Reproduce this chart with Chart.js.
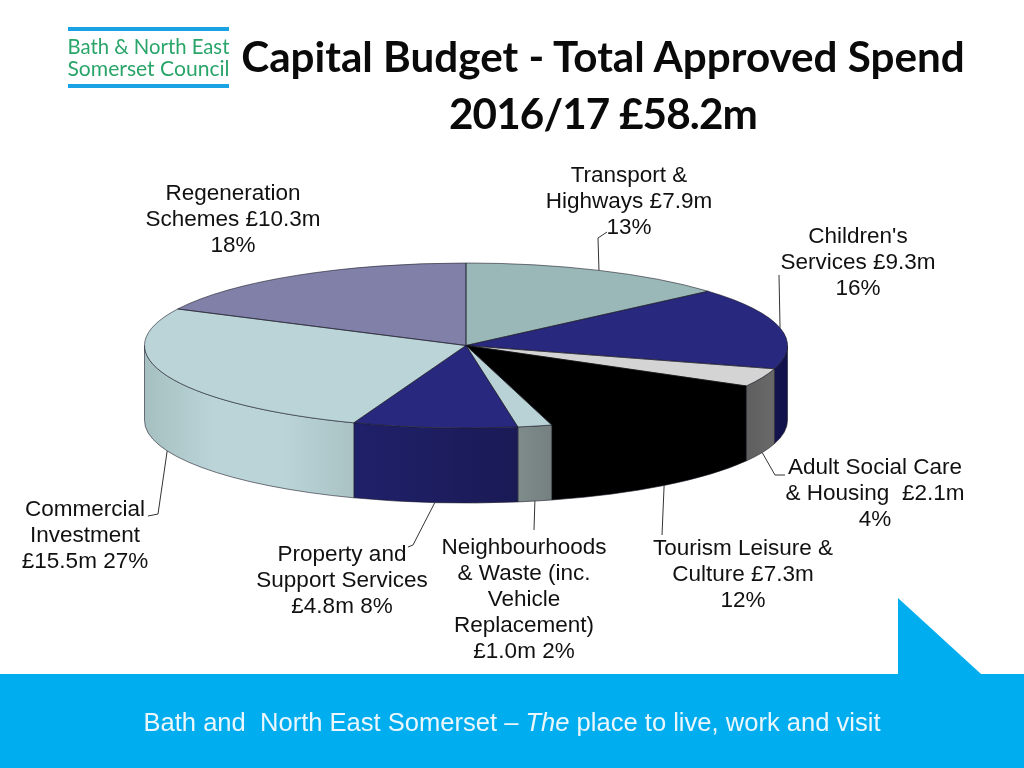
<!DOCTYPE html>
<html><head><meta charset="utf-8">
<script src="https://cdn.jsdelivr.net/npm/chart.js@4"></script>
<style>
html,body{margin:0;padding:0;background:#fff;width:1024px;height:768px;overflow:hidden}
#stage{position:relative;width:1024px;height:768px;overflow:hidden}
canvas{position:absolute;left:0;top:0}
.t{position:absolute;white-space:pre;transform:translate(-50%,-50%);line-height:1}
.lab{font:22.5px "Liberation Sans",Arial,sans-serif;color:#111}
.title{font:700 42.2px Lato,Carlito,sans-serif;color:#0a0a0a}
.logo{font:400 20.3px Lato,sans-serif;color:#2aa56a}
#band{position:absolute;left:0;top:674px;width:1024px;height:94px;background:#00aeef}
#tri{position:absolute;left:898px;top:598px;width:0;height:0;border-bottom:76px solid #00aeef;border-right:83px solid transparent}
.bar{position:absolute;left:68px;width:161px;height:4px;background:#1aa3e4}
#foot{font:25.55px "Liberation Sans",Arial,sans-serif;color:#eaf6fc}
</style></head><body><div id="stage">
<div id="band"></div><div id="tri"></div>
<canvas id="c" width="1024" height="768"></canvas>
<div class="bar" style="top:27px"></div><div class="bar" style="top:84px"></div>
<div class="t logo" style="left:148.5px;top:46px">Bath &amp; North East</div>
<div class="t logo" style="left:148.5px;top:67px;font-size:21.1px">Somerset Council</div>
<div class="t title" style="left:603px;top:55px">Capital Budget - Total Approved Spend</div>
<div class="t title" style="left:603px;top:112px;letter-spacing:-.85px">2016/17 £58.2m</div>
<div class="t" id="foot" style="left:512px;top:722px">Bath and  North East Somerset – <i>The</i> place to live, work and visit</div>
</div>
<script>
const categories=["Transport & Highways","Children's Services","Adult Social Care & Housing","Tourism Leisure & Culture","Neighbourhoods & Waste (inc. Vehicle Replacement)","Property and Support Services","Commercial Investment","Regeneration Schemes"];
const amounts=[7.9,9.3,2.1,7.3,1.0,4.8,15.5,10.3];
const topColours=["#9ab8b8","#28287e","#d4d4d4","#000000","#b9d2d5","#28287e","#bad4d8","#8080a8"];
const wallColours=[["#7f9898","#7f9898"],["#14144e","#12124a"],["#5e5e5e","#6a6a6a"],["#000000","#000000"],["#7f8c8c","#75807f"],["#20206a","#1a1a56"],["#a6bfc0","#bad4d8","#bad4d8","#aac2c4"],["#666","#666"]];
const labelLines=[
 ["Transport &","Highways £7.9m","13%"],
 ["Children's","Services £9.3m","16%"],
 ["Adult Social Care","& Housing  £2.1m","4%"],
 ["Tourism Leisure &","Culture £7.3m","12%"],
 ["Neighbourhoods","& Waste (inc.","Vehicle","Replacement)","£1.0m 2%"],
 ["Property and","Support Services","£4.8m 8%"],
 ["Commercial","Investment","£15.5m 27%"],
 ["Regeneration","Schemes £10.3m","18%"]];
const labelAnchor=[[629,175],[858,236],[875,467],[743,548],[524,547],[342,554],[85,509],[233,193]];
const lineStep=26;
const leaderBends=[[[598,238],[607,232]],[[779,275]],[[775,475],[785,475]],[[662,535]],[[534,530]],[[413,545],[408,547]],[[158,514],[148,516]],[]];

const stage=document.getElementById('stage');
labelLines.forEach((lines,i)=>lines.forEach((s,j)=>{
  const d=document.createElement('div');d.className='t lab';d.textContent=s;
  d.style.left=labelAnchor[i][0]+'px';d.style.top=(labelAnchor[i][1]+j*lineStep)+'px';stage.appendChild(d);
}));

const squash=82.5/321.5, depth=75, edge='#1c1c2a';
function geom(chart){const a=chart.getDatasetMeta(0).data;return {a,cx:a[0].x,cy:a[0].y,r:a[0].outerRadius};}
const pie3d={id:'pie3d',
 beforeDatasetsDraw(chart){
  const {ctx}=chart,{a,cx,cy,r}=geom(chart),ry=r*squash;
  a.forEach((el,i)=>{
    const s=Math.max(el.startAngle,0),e=Math.min(el.endAngle,Math.PI);
    if(e<=s)return;
    const xs=cx+r*Math.cos(e),xe=cx+r*Math.cos(s);
    const g=ctx.createLinearGradient(xs,0,xe,0);
    wallColours[i].forEach((c,k,arr)=>g.addColorStop(k/(arr.length-1),c));
    ctx.beginPath();
    ctx.ellipse(cx,cy,r,ry,0,s,e);
    ctx.ellipse(cx,cy+depth,r,ry,0,e,s,true);
    ctx.closePath();ctx.fillStyle=g;ctx.fill();
    ctx.strokeStyle=edge;ctx.lineWidth=.6;ctx.stroke();
  });
  ctx.save();ctx.translate(cx,cy);ctx.scale(1,squash);ctx.translate(-cx,-cy);
 },
 afterDatasetsDraw(chart){
  const {ctx}=chart;ctx.restore();
  const {a,cx,cy,r}=geom(chart),ry=r*squash;
  ctx.lineWidth=.6;
  a.forEach((el,i)=>{
    ctx.strokeStyle=topColours[i]==='#000000'?'#000':edge;
    ctx.beginPath();ctx.moveTo(cx,cy);ctx.ellipse(cx,cy,r,ry,0,el.startAngle,el.endAngle);ctx.closePath();ctx.stroke();
  });
  ctx.strokeStyle='#333';ctx.lineWidth=1;
  a.forEach((el,i)=>{
    if(!leaderBends[i].length)return;
    const m=(el.startAngle+el.endAngle)/2,front=Math.sin(m)>0;
    ctx.beginPath();ctx.moveTo(cx+r*Math.cos(m),cy+ry*Math.sin(m)+(front?depth:0));
    leaderBends[i].forEach(p=>ctx.lineTo(p[0],p[1]));ctx.stroke();
  });
  a.forEach((el,i)=>{
    if(topColours[i]!=='#000000')return;
    ctx.strokeStyle='#000';ctx.lineWidth=1.6;ctx.beginPath();
    ctx.ellipse(cx,cy,r,ry,0,el.startAngle+.004,el.endAngle-.004);ctx.stroke();
  });
 }};
new Chart(document.getElementById('c'),{type:'pie',
 data:{labels:categories,datasets:[{data:amounts,backgroundColor:topColours,borderWidth:0}]},
 options:{responsive:false,animation:false,devicePixelRatio:1,
  layout:{padding:{left:144.5,right:236.5,top:24,bottom:101}},
  plugins:{legend:{display:false},tooltip:{enabled:false},title:{display:false}}},
 plugins:[pie3d]});
</script></body></html>
